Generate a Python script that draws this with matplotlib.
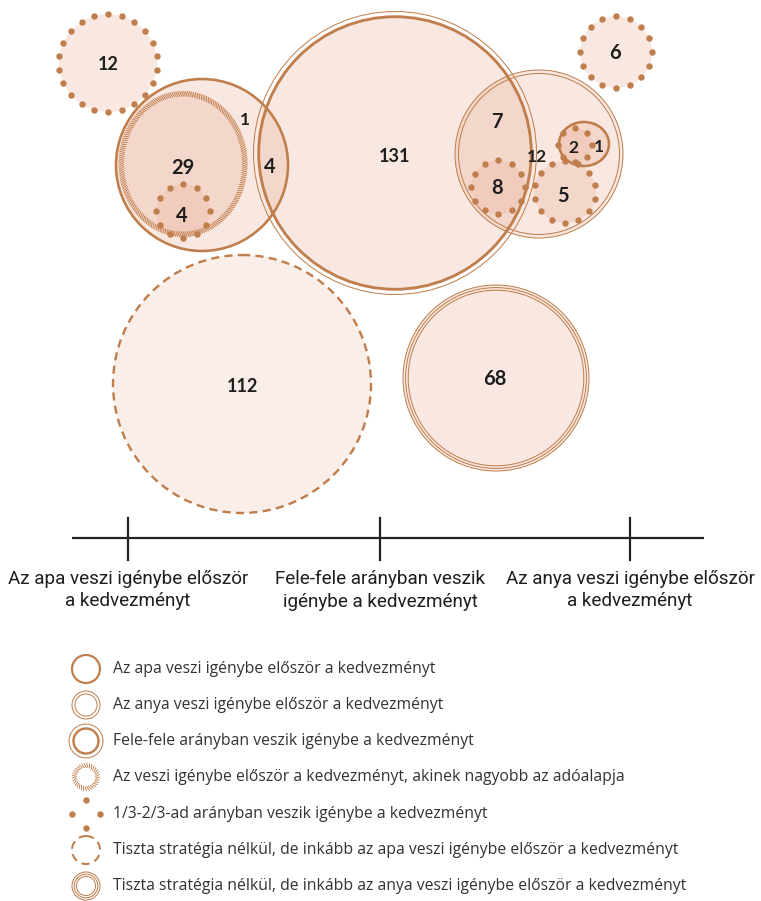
import numpy as np
import matplotlib
matplotlib.use("Agg")
import matplotlib.pyplot as plt
from matplotlib.patches import Circle, Ellipse
from matplotlib.collections import LineCollection

# ---------------- data ----------------
counts = [12, 6, 1, 29, 4, 4, 131, 7, 12, 2, 1, 8, 5, 112, 68]
categories = ["Az apa veszi igénybe először\na kedvezményt",
              "Fele-fele arányban veszik\nigénybe a kedvezményt",
              "Az anya veszi igénybe először\na kedvezményt"]
legend_labels = ["Az apa veszi igénybe először a kedvezményt",
                 "Az anya veszi igénybe először a kedvezményt",
                 "Fele-fele arányban veszik igénybe a kedvezményt",
                 "Az veszi igénybe először a kedvezményt, akinek nagyobb az adóalapja",
                 "1/3-2/3-ad arányban veszik igénybe a kedvezményt",
                 "Tiszta stratégia nélkül, de inkább az apa veszi igénybe először a kedvezményt",
                 "Tiszta stratégia nélkül, de inkább az anya veszi igénybe először a kedvezményt"]

# ---------------- layout (pixels) ----------------
legend_styles = ["apa", "anya", "fele", "hatch", "legdots", "dash", "triple"]
legend_y = [669, 705, 741, 777, 814, 850, 886]
circles = [  # style, cx, cy, r
    ("dots", 108, 63, 49),
    ("dots", 616, 52, 36),
    ("apa", 202, 165, 86),
    ("hatch", 183, 164, (64.5, 73)),
    ("dots", 183, 211, 27),
    ("fele", 395, 153, 138),
    ("anya", 539, 154, 84),
    ("dots", 498, 187, 27),
    ("dots", 565, 192, 31),
    ("apaell", 584, 144, (25, 22)),
    ("dots", 575, 145, 17),
    ("dash", 242, 384, 129),
    ("triple", 496, 378, 93),
]
label_pos = [(108, 65), (615, 53), (245, 120), (183, 168), (182, 216), (270, 167),
             (395, 157), (497, 122), (537, 157), (573, 148), (599, 147),
             (497, 188), (563, 196), (242, 387), (495, 379)]
label_size = [13, 14.5, 12.5, 14.5, 14.5, 14.5, 13, 14.5, 12.5, 12.5, 12.5, 14.5, 14.5, 13, 14.5]
tick_x = [128, 380, 630]

RING = "#BF7E4C"
FILL = "#EAAD94"
TXT = "#1e1e1e"

W, H = 761, 901
fig = plt.figure(figsize=(W / 100, H / 100), dpi=100)
ax = fig.add_axes([0, 0, 1, 1])
ax.set_xlim(0, W)
ax.set_ylim(H, 0)
ax.set_aspect("equal")
ax.axis("off")
PX = 0.72  # points per pixel
DOT = 6.4


def fill(cx, cy, r, alpha=0.28, z=1):
    if isinstance(r, tuple):
        ax.add_patch(Ellipse((cx, cy), 2 * r[0], 2 * r[1], fc=FILL, ec="none", alpha=alpha, zorder=z))
    else:
        ax.add_patch(Circle((cx, cy), r, fc=FILL, ec="none", alpha=alpha, zorder=z))


def ring(style, cx, cy, r, scale=1.0, z=3):
    if style == "apa":
        ax.add_patch(Circle((cx, cy), r, fc="none", ec=RING, lw=2.6 * PX * scale, zorder=z))
    elif style == "apaell":
        ax.add_patch(Ellipse((cx, cy), 2 * r[0], 2 * r[1], fc="none", ec=RING, lw=2.6 * PX, zorder=z))
    elif style == "anya":
        g = 3.5 * scale
        for rr in (r, r - g):
            ax.add_patch(Circle((cx, cy), rr, fc="none", ec=RING, lw=1.0 * PX, zorder=z))
    elif style == "fele":
        g = 3.5 * scale
        ax.add_patch(Circle((cx, cy), r - g / 2, fc="none", ec=RING, lw=2.8 * PX * scale, zorder=z))
        ax.add_patch(Circle((cx, cy), r + g, fc="none", ec=RING, lw=1.0 * PX, zorder=z))
    elif style == "triple":
        g = 2.6 * scale
        for rr in (r, r - g, r - 2 * g):
            ax.add_patch(Circle((cx, cy), rr, fc="none", ec=RING, lw=1.0 * PX, zorder=z))
    elif style == "hatch":
        if isinstance(r, tuple):
            a, b = r
        else:
            a = b = r
        wdt = 5.5 * scale
        per = np.pi * (3 * (a + b) - np.sqrt((3 * a + b) * (a + 3 * b)))
        step = 2.1 if scale == 1.0 else 2.6
        n = int(per / step)
        t = np.linspace(0, 2 * np.pi, n, endpoint=False)
        slant = 0.035 * 70 / ((a + b) / 2)
        xo, yo = cx + a * np.cos(t), cy + b * np.sin(t)
        xi = cx + (a - wdt) * np.cos(t + slant)
        yi = cy + (b - wdt) * np.sin(t + slant)
        segs = np.stack([np.column_stack([xo, yo]), np.column_stack([xi, yi])], axis=1)
        ax.add_collection(LineCollection(segs, colors=RING, linewidths=0.9 * PX, zorder=z))
    elif style == "dash":
        ax.add_patch(Circle((cx, cy), r, fc="none", ec=RING, lw=2.4 * PX * scale,
                            linestyle=(0, (3.4 / scale, 2.2 / scale)), zorder=z))
    elif style == "dots":
        n = int(round(2 * np.pi * r / 14))
        t = np.linspace(0, 2 * np.pi, n, endpoint=False) - np.pi / 2
        ax.scatter(cx + r * np.cos(t), cy + r * np.sin(t), s=(DOT * PX) ** 2,
                   color=RING, linewidths=0, zorder=z)
    elif style == "legdots":
        t = np.array([0, 0.5, 1.0, 1.5]) * np.pi - np.pi / 2
        ax.scatter(cx + r * np.cos(t), cy + r * np.sin(t), s=(DOT * PX) ** 2,
                   color=RING, linewidths=0, zorder=z)


# fills
for st, cx, cy, r in circles:
    if st == "dash":
        fill(cx, cy, r, alpha=0.2)
    else:
        fill(cx, cy, r)
# rings
for st, cx, cy, r in circles:
    ring(st, cx, cy, r)

# labels
for val, (x, y), fs in zip(counts, label_pos, label_size):
    ax.text(x, y, str(val), ha="center", va="center", fontsize=fs, color=TXT,
            family="Lato", fontweight="bold", zorder=10)

# axis line
ax.plot([72, 704], [538, 538], color="#222222", lw=2.2 * PX, solid_capstyle="butt", zorder=5)
for x in tick_x:
    ax.plot([x, x], [518, 560], color="#222222", lw=2.2 * PX, zorder=5)
for x, lab in zip(tick_x, categories):
    ax.text(x, 570, lab, ha="center", va="top", fontsize=13.6, color="#1e1e1e",
            family="Roboto", linespacing=1.32)

# legend
for st, y, lab in zip(legend_styles, legend_y, legend_labels):
    ring(st, 86, y, 14, scale=0.85)
    ax.text(113, y, lab, ha="left", va="center", fontsize=11.3, color="#333333", family="Open Sans")

fig.savefig("out.png", dpi=100)
